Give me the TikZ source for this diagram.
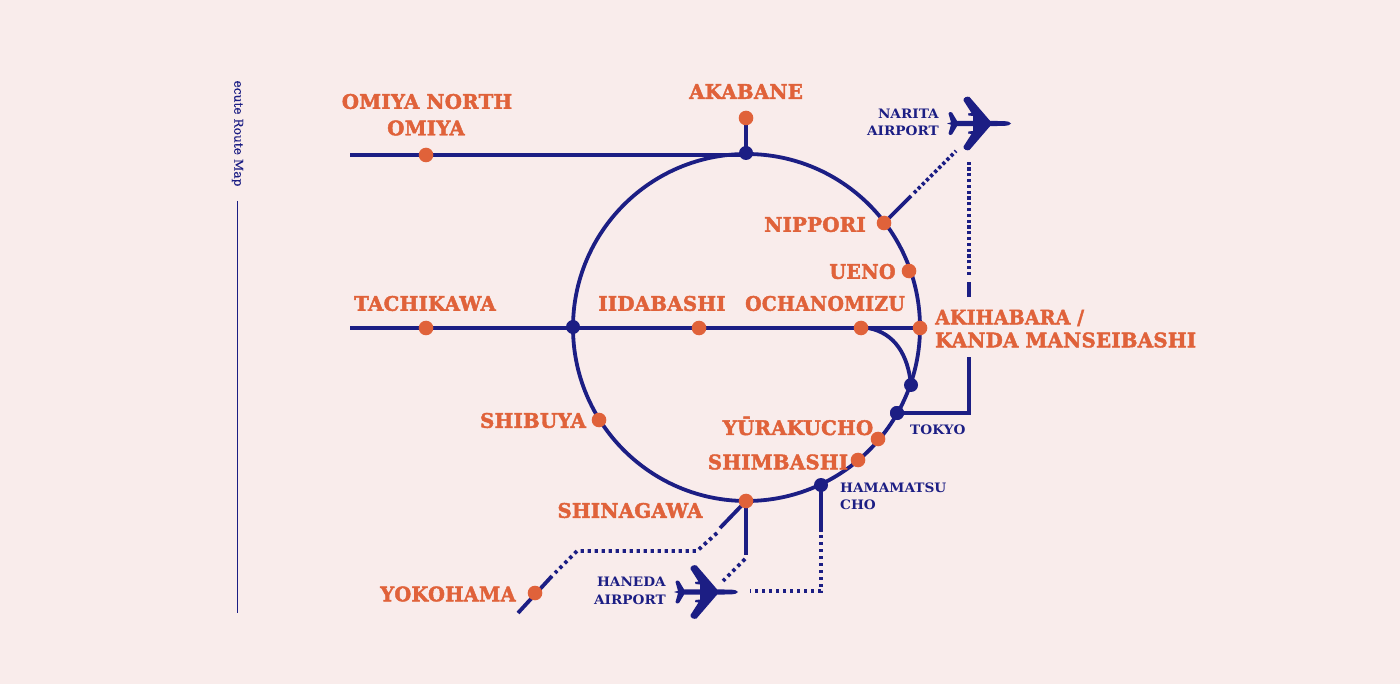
\documentclass[tikz,border=0pt]{standalone}
\usepackage{fontspec}
\setmainfont{DejaVu Serif}
\newfontfamily\stfont[FakeStretch=0.985,LetterSpace=1.5,FakeBold=2.2]{DejaVu Serif Bold}
\newfontfamily\smfont[FakeStretch=1.05]{DejaVu Serif Bold}
\newfontfamily\bgfont[FakeBold=0.3]{DejaVu Serif}
\definecolor{bgc}{HTML}{F9ECEB}
\definecolor{navy}{HTML}{1C1E84}
\definecolor{org}{HTML}{E0623A}
\tikzset{
  every picture/.style={x=1pt,y=-1pt},
  rail/.style={draw=navy,line width=3.8pt,line cap=butt},
  dots/.style={draw=navy,line width=3.8pt,dash pattern=on 3.4pt off 3.6pt},
  fdots/.style={draw=navy,line width=3.8pt,dash pattern=on 3.2pt off 2.6pt},
  thin rule/.style={draw=navy,line width=0.9pt},
  ost/.style={circle,fill=org,minimum size=14.6pt,inner sep=0pt},
  nst/.style={circle,fill=navy,minimum size=14pt,inner sep=0pt},
  lab/.style={text=org,font=\stfont\fontsize{20}{23}\selectfont,inner sep=0pt,align=center},
  squeeze/.style={transform shape,xscale=#1},
  sub/.style={text=navy,font=\smfont\fontsize{13}{17}\selectfont,inner sep=0pt},
  plane/.pic={
    \fill[navy] (-64,0) -- (-60,-1.2) -- (-62.5,-10) .. controls (-62.5,-11.5) and (-60,-12) .. (-59,-11)
      -- (-54,-2.7) -- (-38,-2.7) -- (-38,-7.5) -- (-42.5,-8) -- (-43,-10) -- (-39.5,-10.5)
      -- (-47.5,-23) .. controls (-48,-26) and (-44,-27.5) .. (-41.5,-26.5)
      -- (-21,-2.7) -- (-6,-2.3) .. controls (-2,-1.8) .. (0,0)
      .. controls (-2,1.8) .. (-6,2.3) -- (-21,2.7) -- (-41.5,26.5)
      .. controls (-44,27.5) and (-48,26) .. (-47.5,23)
      -- (-39.5,10.5) -- (-43,10) -- (-42.5,8) -- (-38,7.5) -- (-38,2.7) -- (-54,2.7)
      -- (-59,11) .. controls (-60,12) and (-62.5,11.5) .. (-62.5,10) -- (-60,1.2) -- cycle;
  }
}
\begin{document}
\begin{tikzpicture}
\useasboundingbox[fill=bgc] (0,0) rectangle (1400,684);
% free ends
\coordinate (omw) at (350,155);
\coordinate (taw) at (350,328);
\coordinate (ruleT) at (237.5,201);
\coordinate (ruleB) at (237.5,613);
\coordinate (nipA) at (911,196);
\coordinate (nipS) at (914,193);
\coordinate (nipB) at (956,151);
\coordinate (tkA) at (969,413);
\coordinate (tkB) at (969,357);
\coordinate (tkC) at (969,297);
\coordinate (tkD) at (969,282);
\coordinate (tkS) at (969,275);
\coordinate (tkE) at (969,162);
\coordinate (hmA) at (821,532);
\coordinate (hmS) at (821,535);
\coordinate (hmB) at (821,591);
\coordinate (hmC) at (750,591);
\coordinate (hnA) at (746,555);
\coordinate (hnS) at (745,559);
\coordinate (hnB) at (723,581);
\coordinate (snA) at (720,528);
\coordinate (snS) at (717,533);
\coordinate (snB) at (697,551);
\coordinate (snC) at (577,551);
\coordinate (snD) at (555,573);
\coordinate (snE) at (552,576);
\coordinate (ykE) at (518,613);
\coordinate (ring) at (746.5,327.5);
% thin rule and title
\draw[thin rule] (ruleT) -- (ruleB);
\node[rotate=-90,text=navy,font=\bgfont\fontsize{12.2}{14}\selectfont,inner sep=0pt] (title) at (237.5,133.5) {ecute Route Map};
% ring
\draw[rail] (ring) circle[radius=173.5];
% lines
\coordinate (jak0) at (746,153);
\coordinate (och0) at (861,328);
\coordinate (jkd0) at (911,385);
\draw[rail] (omw) -- (omw -| jak0);
\draw[rail] (746,118) -- (jak0);
\draw[rail] (taw) -- (920,328);
\draw[rail] (och0) -- (868,328) .. controls (895,333) and (908,355) .. (jkd0);
% stations
\node[nst] (jak) at (jak0) {};
\node[ost] (akb) at (746,118) {};
\node[ost] (omy) at (426,155) {};
\node[ost] (tck) at (426,328) {};
\node[nst] (jsj) at (573,327) {};
\node[ost] (iid) at (699,328) {};
\node[ost] (och) at (och0) {};
\node[ost] (aki) at (920,328) {};
\node[nst] (jkd) at (jkd0) {};
\node[nst] (tky) at (897,413) {};
\node[ost] (uen) at (909,271) {};
\draw[rail] (884,223) -- (nipA);
\node[ost] (nip) at (884,223) {};
\draw[fdots] (nipS) -- (nipB);
\draw[rail] (tky.center) -- (tkA) -- (tkB);
\draw[rail] (tkC) -- (tkD);
\draw[fdots] (tkS) -- (tkE);
\node[nst] at (tky) {};
\draw[rail] (821,485) -- (hmA);
\draw[dots] (hmS) -- (hmB) -- (hmC);
\draw[rail] (746,501) -- (hnA);
\draw[dots] (hnS) -- (hnB);
\draw[rail] (746,501) -- (snA);
\draw[dots] (snS) -- (snB) -- (snC) -- (snD);
\draw[rail] (snE) -- (ykE);
\node[ost] (yrk) at (878,439) {};
\node[ost] (smb) at (858,460) {};
\node[nst] (hmc) at (821,485) {};
\node[ost] (sng) at (746,501) {};
\node[ost] (sby) at (599,420) {};
\node[ost] (yok) at (535,593) {};
% planes
\pic at (1011,123.5) {plane};
\pic at (738,592) {plane};
% labels
\node[lab] (l1) at (427,101.5) {OMIYA NORTH};
\node[lab] (l2) at (426,128) {OMIYA};
\node[lab] (l3) at (746,91.5) {AKABANE};
\node[lab] (l4) at (815,224.5) {NIPPORI};
\node[lab,squeeze=0.97] (l5) at (862.5,271.5) {UENO};
\node[lab] (l6) at (425,303.5) {TACHIKAWA};
\node[lab] (l7) at (662,303.5) {IIDABASHI};
\node[lab,squeeze=0.955] (l8) at (825,303.5) {OCHANOMIZU};
\node[lab,anchor=west,squeeze=0.955] (l9) at (935,318) {AKIHABARA /};
\node[lab,anchor=west] (l10) at (935,340) {KANDA MANSEIBASHI};
\node[lab] (l11) at (533,420.5) {SHIBUYA};
\node[lab] (l12) at (798,426) {Y\=URAKUCHO};
\node[lab] (l13) at (778,462) {SHIMBASHI};
\node[lab] (l14) at (630,510.5) {SHINAGAWA};
\node[lab,squeeze=0.98] (l15) at (448,594) {YOKOHAMA};
\node[sub,anchor=east] (s1) at (939,113.5) {NARITA};
\node[sub,anchor=east] (s2) at (939,131) {AIRPORT};
\node[sub,anchor=west] (s3) at (910,429.5) {TOKYO};
\node[sub,anchor=west] (s4) at (840,487.5) {HAMAMATSU};
\node[sub,anchor=west] (s5) at (840,505) {CHO};
\node[sub,anchor=east] (s6) at (666,582) {HANEDA};
\node[sub,anchor=east] (s7) at (666,599.5) {AIRPORT};
\end{tikzpicture}
\end{document}
